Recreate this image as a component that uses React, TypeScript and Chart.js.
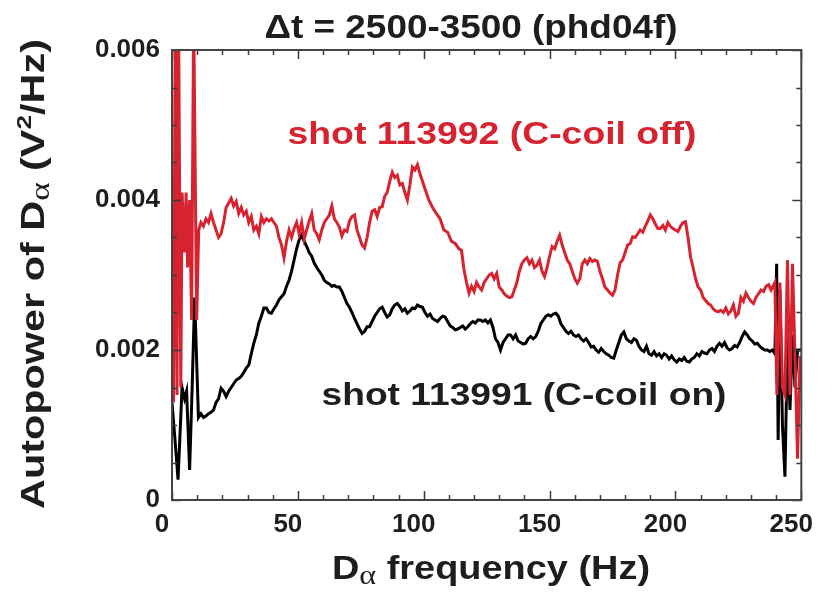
import React, { useEffect, useRef } from "react";
import { Chart, registerables } from "chart.js";

Chart.register(...registerables);

// Shot 113992 (C-coil off) — frequency (Hz) and autopower (1e-3 V^2/Hz)
const offFreq = [
  0, 0.6, 1.3, 2.0, 2.6, 3.5, 4.0, 5.0, 5.6, 6.2, 7.0, 7.8, 8.6, 9.8, 10.6,
  11.5, 12.5, 13.5, 14.5, 15.5, 16.5, 17.5, 18.5, 19.5, 20.5,
  21.5, 22.5, 23.5, 24.5, 25.5, 26.5, 27.5, 28.5, 29.5, 30.5,
  31.5, 32.5, 33.5, 34.5, 35.5, 36.5, 37.5, 38.5, 39.5, 40.5,
  41.5, 42.5, 43.5, 44.5, 45.5, 46.5, 47.5, 48.5, 49.5, 50.5,
  51.5, 52.5, 53.5, 54.5, 55.5, 56.5, 57.5, 58.5, 59.5, 60.5,
  61.5, 62.5, 63.5, 64.5, 65.5, 66.5, 67.5, 68.5, 69.5, 70.5,
  71.5, 72.5, 73.5, 74.5, 75.5, 76.5, 77.5, 78.5, 79.5, 80.5,
  81.5, 82.5, 83.5, 84.5, 85.5, 86.5, 87.5, 88.5, 89.5, 90.5,
  91.5, 92.5, 93.5, 94.5, 95.5, 96.5, 97.5, 98.5, 99.5, 100.5,
  102, 103.5, 105, 106.5, 108, 109.5, 111, 112.5, 114,
  115, 116, 117, 118, 119, 120, 121, 122, 123, 124,
  125, 126, 127, 128, 129, 130, 131, 132, 133, 134,
  135, 136, 137, 138, 139, 140, 141, 142, 143, 144,
  145, 146, 147, 148, 149, 150, 151, 152, 153, 154,
  155, 156, 157, 158, 159, 160, 161, 162, 163, 164,
  165, 166, 167, 168, 169, 170, 171, 172, 173, 174,
  175, 176, 177, 178, 179, 180, 181, 182, 183, 184,
  185, 186, 187, 188, 189, 190, 191, 192, 193, 194,
  195, 196, 197, 198, 199, 200, 201, 202, 203, 204,
  205, 206, 207, 208, 209, 210, 211, 212, 213, 214,
  215, 216, 217, 218, 219, 220, 221, 222, 223, 224,
  225, 226, 227, 228, 229, 230, 231, 232, 233, 234,
  235, 236, 237, 238,
  239.5, 240.3, 241.5, 242.5, 243.5, 244.5, 245.5, 246.5, 247.5, 248.5, 249.5, 250,
];
const offPower = [
  3.5, 1.3, 6.5, 1.4, 6.5, 1.5, 4.1, 3.3, 4.1, 3.1, 4.0, 2.4, 6.5, 2.4, 3.6,
  3.7, 3.65, 3.75, 3.7, 3.82, 3.7, 3.6, 3.5, 3.55, 3.7,
  3.9, 3.96, 4.02, 3.92, 3.98, 3.82, 3.9, 3.8, 3.85, 3.7,
  3.78, 3.6, 3.65, 3.55, 3.78, 3.7, 3.75, 3.72, 3.75, 3.7,
  3.65, 3.5, 3.4, 3.23, 3.45, 3.6, 3.5, 3.62, 3.7, 3.55,
  3.7, 3.48, 3.6, 3.72, 3.82, 3.6, 3.55, 3.47, 3.6, 3.7,
  3.75, 3.8, 3.92, 3.75, 3.7, 3.64, 3.52, 3.6, 3.58, 3.72,
  3.78, 3.8, 3.6, 3.5, 3.4, 3.36, 3.5, 3.7, 3.85, 3.87,
  3.78, 3.9, 3.91, 4.05, 4.1, 4.25, 4.37, 4.3, 4.33, 4.2,
  4.22, 4.1, 4.0, 4.2, 4.44, 4.4, 4.47, 4.35, 4.25, 4.15,
  4.0, 3.9, 3.82, 3.75, 3.6, 3.57, 3.45, 3.42, 3.35,
  3.33, 3.07, 2.9, 2.76, 2.85, 2.78, 2.9, 2.84, 2.8, 2.9,
  2.95, 3.0, 3.02, 2.95, 3.02, 2.84, 2.8, 2.75, 2.72, 2.7,
  2.71, 2.8, 2.9, 3.05, 3.15, 3.2, 3.23, 3.15, 3.2, 3.1,
  3.13, 3.2, 3.05, 2.98, 3.1, 3.25, 3.38, 3.35, 3.45, 3.53,
  3.4, 3.3, 3.2, 3.15, 3.05, 2.95, 2.89, 2.95, 3.15, 3.2,
  3.15, 3.22, 3.18, 3.2, 3.18, 3.05, 2.95, 2.84, 2.8, 2.76,
  2.73, 2.8, 3.0, 3.16, 3.2, 3.3, 3.4, 3.42, 3.51, 3.5,
  3.55, 3.6, 3.57, 3.65, 3.72, 3.8, 3.75, 3.68, 3.62, 3.62,
  3.66, 3.6, 3.7, 3.65, 3.62, 3.6, 3.58, 3.65, 3.7, 3.71,
  3.5, 3.24, 3.1, 2.95, 2.84, 2.8, 2.7, 2.66, 2.62, 2.6,
  2.55, 2.52, 2.51, 2.53, 2.5, 2.56, 2.48, 2.52, 2.6, 2.45,
  2.49, 2.7, 2.65, 2.76, 2.7, 2.65, 2.62, 2.7, 2.75, 2.8,
  2.78, 2.85, 2.87, 2.8,
  2.9, 1.4, 2.9, 1.5, 1.4, 3.2, 1.4, 3.15, 1.9, 0.55, 1.9, 1.9,
];

// Shot 113991 (C-coil on)
const onFreq = [
  0, 1.2, 2.4, 4, 5, 5.8, 7, 8, 9, 10.5,
  11.5, 12.5, 13.5, 14.5, 15.5, 16.5, 17.5, 18.5, 19.5, 20.5,
  21.5, 22.5, 23.5, 24.5, 25.5, 26.5, 27.5, 28.5, 29.5, 30.5,
  31.5, 32.5, 33.5, 34.5, 35.5, 36.5, 37.5, 38.5, 39.5, 40.5,
  41.5, 42.5, 43.5, 44.5, 45.5, 46.5, 47.5, 48.5, 49.5, 50.5,
  51.5, 52.5, 53.5, 54.5, 55.5, 56.5, 57.5, 58.5, 59.5, 60.5,
  61.5, 62.5, 63.5, 64.5, 65.5, 66.5, 67.5, 68.5, 69.5, 70.5,
  71.5, 72.5, 73.5, 74.5, 75.5, 76.5, 77.5, 78.5, 79.5, 80.5,
  81.5, 82.5, 83.5, 84.5, 85.5, 86.5, 87.5, 88.5, 89.5, 90.5,
  91.5, 92.5, 93.5, 94.5, 95.5, 96.5, 97.5, 98.5, 99.5, 100.5,
  101.5, 102.5, 103.5, 104.5, 105.5, 106.5, 107.5, 108.5, 109.5, 110.5,
  111.5, 112.5, 113.5, 114.5, 115.5, 116.5, 117.5, 118.5, 119.5, 120.5,
  121.5, 122.5, 123.5, 124.5, 125.5, 126.5, 127.5, 128.5, 129.5, 130.5,
  131.5, 132.5, 133.5, 134.5, 135.5, 136.5, 137.5, 138.5, 139.5, 140.5,
  141.5, 142.5, 143.5, 144.5, 145.5, 146.5, 147.5, 148.5, 149.5, 150.5,
  151.5, 152.5, 153.5, 154.5, 155.5, 156.5, 157.5, 158.5, 159.5, 160.5,
  161.5, 162.5, 163.5, 164.5, 165.5, 166.5, 167.5, 168.5, 169.5, 170.5,
  171.5, 172.5, 173.5, 174.5, 175.5, 176.5, 177.5, 178.5, 179.5, 180.5,
  181.5, 182.5, 183.5, 184.5, 185.5, 186.5, 187.5, 188.5, 189.5, 190.5,
  191.5, 192.5, 193.5, 194.5, 195.5, 196.5, 197.5, 198.5, 199.5, 200.5,
  201.5, 202.5, 203.5, 204.5, 205.5, 206.5, 207.5, 208.5, 209.5, 210.5,
  211.5, 212.5, 213.5, 214.5, 215.5, 216.5, 217.5, 218.5, 219.5, 220.5,
  221.5, 222.5, 223.5, 224.5, 225.5, 226.5, 227.5, 228.5, 229.5, 230.5,
  231.5, 232.5, 233.5, 234.5, 235.5, 236.5, 237.5, 238.5, 239.5,
  240.2, 240.8, 241.5, 242.5, 243.5, 244.5, 245.5, 246.5, 247.5, 248.5, 250,
];
const onPower = [
  1.3, 0.8, 0.27, 1.5, 1.35, 1.45, 0.4, 1.5, 2.7, 1.1,
  1.15, 1.1, 1.12, 1.15, 1.17, 1.2, 1.3, 1.35, 1.49, 1.45,
  1.38, 1.45, 1.5, 1.55, 1.6, 1.62, 1.65, 1.7, 1.76, 1.8,
  1.95, 2.09, 2.2, 2.36, 2.45, 2.56, 2.56, 2.5, 2.49, 2.55,
  2.6, 2.67, 2.71, 2.75, 2.85, 2.93, 3.05, 3.2, 3.35, 3.47,
  3.53, 3.45, 3.38, 3.3, 3.25, 3.16, 3.1, 3.05, 3.0, 2.93,
  2.9, 2.88, 2.85, 2.86, 2.84, 2.84, 2.78, 2.7, 2.62, 2.57,
  2.5, 2.42, 2.35, 2.28, 2.22, 2.25, 2.31, 2.31, 2.38, 2.45,
  2.5, 2.55, 2.57, 2.5, 2.44, 2.47, 2.55, 2.6, 2.62, 2.58,
  2.52, 2.55, 2.49, 2.52, 2.56, 2.55, 2.6, 2.58, 2.57, 2.5,
  2.45, 2.48, 2.42, 2.4, 2.38, 2.42, 2.45, 2.44, 2.38, 2.32,
  2.3, 2.27, 2.28, 2.3, 2.32, 2.28, 2.31, 2.35, 2.38, 2.36,
  2.4, 2.4, 2.38, 2.4, 2.36, 2.4, 2.3, 2.15, 2.1, 2.0,
  2.1, 2.15, 2.2, 2.2, 2.15, 2.2, 2.12, 2.1, 2.08, 2.09,
  2.15, 2.18, 2.15, 2.18, 2.25, 2.35, 2.4, 2.45, 2.47, 2.45,
  2.48, 2.49, 2.45, 2.35, 2.3, 2.25, 2.22, 2.25, 2.2, 2.18,
  2.2, 2.15, 2.12, 2.15, 2.1, 2.04, 2.05, 2.0, 1.97, 2.02,
  1.98, 1.95, 1.93, 1.9, 1.89, 2.0, 2.1, 2.2, 2.24, 2.15,
  2.12, 2.1, 2.15, 2.13, 2.05, 2.0, 1.98, 2.05, 1.95, 1.93,
  1.98, 1.92, 1.95, 1.9, 1.95, 1.93, 1.88, 1.92, 1.87, 1.84,
  1.88, 1.86, 1.9, 1.85, 1.84, 1.88, 1.9, 1.95, 1.92, 1.98,
  1.96, 1.95, 2.0, 2.02, 1.98, 2.05, 2.09, 2.05, 2.1, 2.03,
  2.0, 2.02, 2.06, 2.04, 2.1, 2.18, 2.24, 2.2, 2.15, 2.12,
  2.08, 2.09, 2.05, 2.02, 2.0, 2.0, 1.98, 2.0, 1.95,
  3.15, 0.8, 2.8, 1.0, 0.31, 2.13, 1.2, 2.2, 1.5, 2.0, 2.0,
];

const powerUnit = 0.001; // values above are in 1e-3 V^2/Hz
const xTickStep = 50;
const xMinorStep = 10;
const yTickStep = 0.002;
const yMinorStep = 0.0005;
const xMax = 250;
const yMax = 0.006;

const RED = "#d6232f";
const BLACK = "#000000";
const TEXT = "#1e1e1e";

type Seg = { text: string; font: string; dy?: number };

function drawMixed(
  ctx: CanvasRenderingContext2D,
  segs: Seg[],
  targetWidth: number,
  color: string
) {
  const widths = segs.map((s) => {
    ctx.font = s.font;
    return ctx.measureText(s.text).width;
  });
  const total = widths.reduce((a, b) => a + b, 0);
  ctx.scale(targetWidth / total, 1);
  let x = -total / 2;
  ctx.fillStyle = color;
  ctx.textAlign = "left";
  ctx.textBaseline = "alphabetic";
  segs.forEach((s, i) => {
    ctx.font = s.font;
    ctx.fillText(s.text, x, s.dy || 0);
    x += widths[i];
  });
}

const B = (px: number) => `bold ${px}px 'Liberation Sans', Arial, sans-serif`;
const SERIF = (px: number) => `${px}px 'Liberation Serif', 'Times New Roman', serif`;

const decorPlugin = {
  id: "decor",
  afterDatasetsDraw(chart: any) {
    const { ctx, chartArea: a, scales } = chart;
    const x = scales.x;
    const y = scales.y;
    ctx.save();
    ctx.strokeStyle = "#3a3a3a";
    ctx.lineWidth = 1.5;
    ctx.beginPath();
    for (let k = 0; k * xMinorStep <= xMax + 1e-9; k++) {
      const v = k * xMinorStep;
      const major = Math.abs(v % xTickStep) < 1e-9;
      const len = major ? 9 : 5;
      const px = Math.round(x.getPixelForValue(v)) + 0.5;
      ctx.moveTo(px, a.bottom);
      ctx.lineTo(px, a.bottom - len);
      ctx.moveTo(px, a.top);
      ctx.lineTo(px, a.top + len);
    }
    for (let k = 0; k * yMinorStep <= yMax + 1e-12; k++) {
      const v = k * yMinorStep;
      const major = k % Math.round(yTickStep / yMinorStep) === 0;
      const len = major ? 9 : 5;
      const py = Math.round(y.getPixelForValue(v)) + 0.5;
      ctx.moveTo(a.left, py);
      ctx.lineTo(a.left + len, py);
      ctx.moveTo(a.right, py);
      ctx.lineTo(a.right - len, py);
    }
    ctx.stroke();
    ctx.lineWidth = 2;
    ctx.strokeStyle = "#444";
    ctx.strokeRect(a.left, a.top, a.right - a.left, a.bottom - a.top);
    ctx.restore();
  },
  afterDraw(chart: any) {
    const { ctx } = chart;
    // Title
    ctx.save();
    ctx.translate(471, 38);
    drawMixed(ctx, [{ text: "\u0394t = 2500-3500 (phd04f)", font: B(33) }], 413, TEXT);
    ctx.restore();
    // Red annotation
    ctx.save();
    ctx.translate(492, 144);
    drawMixed(ctx, [{ text: "shot 113992 (C-coil off)", font: B(32) }], 409, RED);
    ctx.restore();
    // Black annotation
    ctx.save();
    ctx.translate(524, 405);
    drawMixed(ctx, [{ text: "shot 113991 (C-coil on)", font: B(32) }], 405, TEXT);
    ctx.restore();
    // X axis title
    ctx.save();
    ctx.translate(491, 579);
    drawMixed(
      ctx,
      [
        { text: "D", font: B(33) },
        { text: "\u03b1", font: SERIF(28), dy: 5 },
        { text: " frequency (Hz)", font: B(33) },
      ],
      318,
      TEXT
    );
    ctx.restore();
    // Y axis title
    ctx.save();
    ctx.translate(44, 274);
    ctx.rotate(-Math.PI / 2);
    drawMixed(
      ctx,
      [
        { text: "Autopower of D", font: B(33) },
        { text: "\u03b1", font: SERIF(28), dy: 5 },
        { text: " (V", font: B(33) },
        { text: "2", font: B(21), dy: -13 },
        { text: "/Hz)", font: B(33) },
      ],
      470,
      TEXT
    );
    ctx.restore();
  },
};

export default function App() {
  const ref = useRef<HTMLCanvasElement | null>(null);

  useEffect(() => {
    if (!ref.current) return;
    const offData = offFreq.map((f, i) => ({ x: f, y: offPower[i] * powerUnit }));
    const onData = onFreq.map((f, i) => ({ x: f, y: onPower[i] * powerUnit }));
    const chart = new Chart(ref.current, {
      type: "line",
      data: {
        datasets: [
          {
            label: "shot 113992 (C-coil off)",
            data: offData,
            borderColor: RED,
            borderWidth: 3,
            pointRadius: 0,
            tension: 0,
          },
          {
            label: "shot 113991 (C-coil on)",
            data: onData,
            borderColor: BLACK,
            borderWidth: 3,
            pointRadius: 0,
            tension: 0,
          },
        ],
      },
      options: {
        animation: false,
        responsive: false,
        devicePixelRatio: 1,
        parsing: false,
        layout: { padding: { top: 50, right: 29, left: 12, bottom: 0 } },
        plugins: {
          legend: { display: false },
          tooltip: { enabled: false },
          title: { display: false },
        },
        scales: {
          x: {
            type: "linear",
            min: 0,
            max: xMax,
            grid: { display: false, drawTicks: false },
            border: { display: false },
            ticks: {
              stepSize: xTickStep,
              autoSkip: false,
              maxRotation: 0,
              padding: 9,
              labelOffset: -10,
              color: TEXT,
              font: { family: "'Liberation Sans', Arial, sans-serif", size: 26, weight: "bold" },
            },
            afterFit: (s: any) => {
              s.height = 92;
            },
          },
          y: {
            type: "linear",
            min: 0,
            max: yMax,
            grid: { display: false, drawTicks: false },
            border: { display: false },
            ticks: {
              stepSize: yTickStep,
              padding: 12,
              color: TEXT,
              font: { family: "'Liberation Sans', Arial, sans-serif", size: 26, weight: "bold" },
              callback: (v: any) => (Number(v) === 0 ? "0" : Number(v).toFixed(3)),
            },
            afterFit: (s: any) => {
              s.width = 160;
            },
          },
        },
      },
      plugins: [decorPlugin],
    } as any);
    return () => chart.destroy();
  }, []);

  return (
    <div style={{ position: "fixed", left: 0, top: 0, width: 832, height: 592, background: "#fff" }}>
      <canvas ref={ref} width={832} height={592} />
    </div>
  );
}
